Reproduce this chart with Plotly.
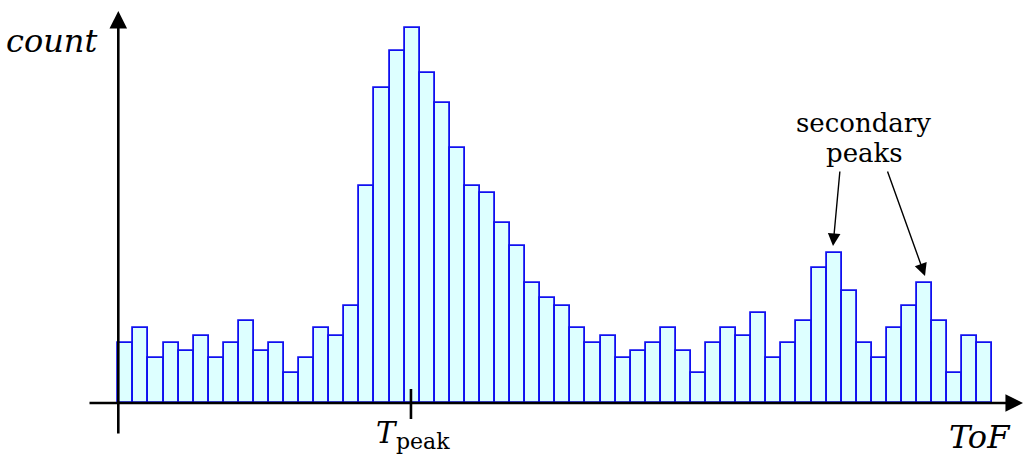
import plotly.graph_objects as go

# data: counts per ToF bin
counts = [8, 10, 6, 8, 7, 9, 6, 8, 11, 7, 8, 4, 6, 10, 9, 13,
          29, 42, 47, 50, 44, 40, 34, 29, 28, 24, 21, 16, 14, 13, 10, 8,
          9, 6, 7, 8, 10, 7, 4, 8, 10, 9, 12, 6, 8, 11, 18, 20,
          15, 8, 6, 10, 13, 16, 11, 4, 9, 8]
bins = [i + 0.5 for i in range(len(counts))]
t_peak = 19.42

W, H = 1024, 458
X0, DX = 118.3, 15.07   # pixel of x=0, pixels per bin
Y0, DY = 403.0, 7.5     # pixel of y=0, pixels per count

def px2x(p):
    return (p - X0) / DX

def px2y(p):
    return (Y0 - p) / DY

fig = go.Figure()
fig.add_trace(go.Bar(
    x=bins, y=counts, width=1.0,
    marker=dict(color="#ddffff", line=dict(color="#1010f0", width=1.8)),
    hoverinfo="skip",
))

serif = "DejaVu Serif"

def label(px, py, text, size, anchor="center"):
    return dict(x=px2x(px), y=px2y(py), xref="x", yref="y", text=text, showarrow=False,
                xanchor=anchor, yanchor="middle", font=dict(family=serif, size=size, color="black"))

def arrow(px0, py0, px1, py1, width, size):
    return dict(x=px2x(px1), y=px2y(py1), ax=px2x(px0), ay=px2y(py0), xref="x", yref="y",
                axref="x", ayref="y", showarrow=True, arrowhead=2, arrowsize=size,
                arrowwidth=width, arrowcolor="black", text="")

ann = [
    arrow(118.3, 435, 118.3, 11, 2.6, 1.35),     # y axis
    arrow(88, 403, 1023, 403, 2.6, 1.35),        # x axis
    label(99, 41, "<i>count</i>", 32, "right"),
    label(1013, 437, "<i>ToF</i>", 32, "right"),
    label(374, 433, "<i>T</i>", 29, "left"),
    label(394, 441, "peak", 22, "left"),
    label(863, 123, "secondary", 26),
    label(864, 153, "peaks", 26),
    arrow(840, 170, 833, 246, 1.4, 1.8),
    arrow(887, 170, 925, 276, 1.4, 1.8),
]

# T_peak tick
fig.add_shape(type="line", x0=t_peak, x1=t_peak, y0=px2y(389), y1=px2y(419),
              xref="x", yref="y", line=dict(color="black", width=2.6))

fig.update_layout(
    width=W, height=H,
    margin=dict(l=0, r=0, t=0, b=0),
    paper_bgcolor="white", plot_bgcolor="white",
    showlegend=False, bargap=0,
    annotations=ann,
    xaxis=dict(range=[px2x(0), px2x(W)], visible=False, fixedrange=True),
    yaxis=dict(range=[px2y(H), px2y(0)], visible=False, fixedrange=True),
)

fig.write_html("out.html")
